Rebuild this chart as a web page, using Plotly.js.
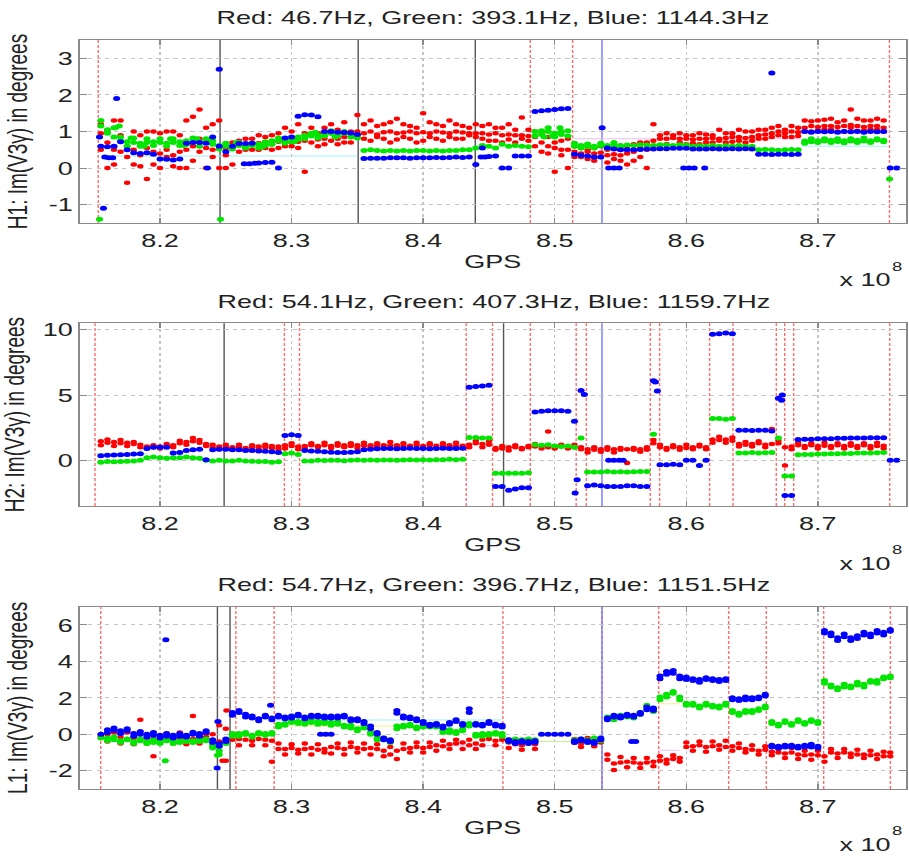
<!DOCTYPE html>
<html>
<head>
<meta charset="utf-8">
<script src="https://cdn.plot.ly/plotly-3.0.1.min.js"></script>
<style>
html,body{margin:0;padding:0;background:#fff;overflow:hidden;}
#wrap{width:909px;height:857px;overflow:hidden;}
#plot{width:640px;height:857px;transform:scaleX(1.4203125);transform-origin:0 0;}
</style>
</head>
<body>
<div id="wrap"><div id="plot"></div></div>
<script>
// ---------- data (GPS in units of 1e8 s, values in degrees) ----------
const gps = [
8.155,8.160,8.165,8.170,8.175,8.180,8.185,8.190,8.195,8.200,
8.205,8.210,8.215,8.220,8.225,8.230,8.235,8.240,8.245,8.250,
8.255,8.260,8.265,8.270,8.275,8.280,8.285,8.290,8.295,8.300,
8.305,8.310,8.315,8.320,8.325,8.330,8.335,8.340,8.345,8.350,
8.355,8.360,8.365,8.370,8.375,8.380,8.385,8.390,8.395,8.400,
8.405,8.410,8.415,8.420,8.425,8.430,8.435,8.440,8.445,8.450,
8.455,8.460,8.465,8.470,8.475,8.480,8.485,8.490,8.495,8.500,
8.505,8.510,8.515,8.520,8.525,8.530,8.535,8.540,8.545,8.550,
8.555,8.560,8.565,8.570,8.575,8.580,8.585,8.590,8.595,8.600,
8.605,8.610,8.615,8.620,8.625,8.630,8.635,8.640,8.645,8.650,
8.655,8.660,8.665,8.670,8.675,8.680,8.685,8.690,8.695,8.700,
8.705,8.710,8.715,8.720,8.725,8.730,8.735,8.740,8.745,8.750,
8.755,8.760];

// ----- H1 -----
const h1Blue = [
0.60,0.58,0.60,0.72,0.50,0.42,0.40,0.42,0.38,0.25,
0.24,0.22,0.25,0.68,0.70,0.70,0.68,0.85,0.60,0.45,
0.60,0.67,0.67,0.68,0.14,0.15,0.16,0.00,0.82,0.85,
1.42,1.46,1.45,1.40,1.00,1.00,0.98,0.97,0.96,0.92,
0.26,0.27,0.27,0.27,0.28,0.28,0.28,0.27,0.28,0.28,
0.28,0.29,0.28,0.29,0.30,0.29,0.30,0.10,0.55,0.32,
0.33,0.00,0.00,0.33,0.33,0.33,1.55,1.57,1.58,1.60,
1.62,1.63,0.38,0.35,0.33,0.30,0.30,0.55,0.52,0.50,
0.50,0.50,0.51,0.52,0.52,0.53,0.53,0.54,0.54,0.54,
0.52,0.52,0.52,0.53,0.52,0.52,0.53,0.52,0.53,0.52,
0.38,0.38,0.37,0.38,0.38,0.37,0.38,1.00,0.98,1.00,
0.99,1.00,0.98,1.00,0.99,1.00,0.98,1.00,0.99,1.00,
0.00,0.00];
const h1Green = [
1.30,1.05,0.85,0.75,0.72,0.70,0.68,0.70,0.72,0.70,
0.68,0.70,0.72,0.75,0.70,0.72,0.70,0.65,0.62,0.60,
0.60,0.62,0.60,0.62,0.65,0.72,0.75,0.74,0.78,0.80,
0.85,0.90,0.88,0.90,0.95,0.95,0.97,0.95,0.93,0.90,
0.48,0.50,0.48,0.47,0.48,0.47,0.48,0.47,0.48,0.48,
0.47,0.48,0.47,0.48,0.48,0.50,0.50,0.55,0.62,0.60,
0.55,0.65,0.60,0.62,0.60,0.58,1.00,1.02,1.00,0.95,
1.00,1.02,0.60,0.62,0.58,0.60,0.62,0.62,0.63,0.62,
0.63,0.62,0.64,0.63,0.62,0.64,0.63,0.62,0.64,0.63,
0.60,0.61,0.60,0.62,0.60,0.61,0.60,0.62,0.60,0.60,
0.50,0.51,0.50,0.49,0.50,0.51,0.50,0.74,0.72,0.75,
0.74,0.76,0.73,0.75,0.74,0.76,0.74,0.75,0.77,0.76,
null,null];
const h1Green2 = [
1.15,0.95,1.10,0.85,0.60,0.82,0.60,0.80,0.62,0.80,
0.60,0.80,0.62,0.65,0.82,0.60,0.80,0.75,0.52,0.68,
0.52,0.70,0.55,0.68,0.55,0.62,0.65,0.82,0.68,0.72,
0.78,0.80,0.95,0.82,0.88,1.02,0.88,1.00,0.85,0.82,
null,null,null,null,null,null,null,null,null,null,
null,null,null,null,null,null,null,null,null,null,
null,null,null,null,null,null,0.88,0.92,1.10,0.85,
0.92,0.88,0.68,0.55,0.66,0.55,0.68,0.55,0.70,0.56,
null,null,null,null,null,null,null,null,null,null,
null,null,null,null,null,null,null,null,null,null,
null,null,null,null,null,null,null,0.68,0.80,0.70,
0.80,0.70,0.80,0.69,0.80,0.70,0.82,0.70,0.80,0.72,
null,null];
const h1Red = [
0.50,1.00,0.50,0.45,0.60,0.50,0.35,0.55,0.45,0.40,
0.50,0.35,0.45,0.50,0.60,0.45,0.55,0.50,0.60,0.55,
0.60,0.62,0.60,0.65,0.68,0.70,0.65,0.72,0.75,0.70,
0.72,0.75,0.70,0.78,0.80,0.75,0.80,0.85,0.85,0.90,
0.95,1.00,0.92,0.98,1.00,0.95,0.97,1.00,0.95,0.98,
0.95,1.00,0.97,0.95,1.00,0.97,0.95,0.95,0.95,0.92,
0.95,0.90,0.92,0.90,0.90,0.88,0.85,0.70,0.60,0.55,
0.50,0.50,0.45,0.40,0.45,0.40,0.42,0.35,0.38,0.35,
0.40,0.45,0.55,0.70,0.75,0.80,0.80,0.82,0.80,0.80,
0.78,0.80,0.80,0.82,0.80,0.82,0.85,0.85,0.82,0.85,
0.90,0.92,0.95,0.90,0.95,1.00,0.98,1.10,1.15,1.12,
1.15,1.15,1.12,1.15,1.18,1.15,1.12,1.15,1.15,1.10,
null,null];
const h1Red2 = [
1.20,0.00,1.30,0.90,-0.40,1.00,0.05,-0.30,1.00,0.00,
1.00,0.05,0.90,0.00,1.40,1.60,0.00,1.20,0.00,0.00,
0.10,0.75,0.50,0.80,0.50,0.55,0.90,0.55,1.10,0.60,
1.20,-0.10,0.95,0.60,1.10,0.95,0.65,1.25,1.00,1.45,
1.20,0.75,1.15,0.80,1.25,0.78,1.20,0.80,1.10,0.75,
1.25,0.80,1.15,0.85,1.20,0.80,1.10,0.85,1.15,0.75,
1.10,0.70,1.20,0.70,1.38,0.75,0.60,0.45,0.85,-0.10,
0.75,0.00,0.30,0.55,0.25,0.55,0.30,0.15,0.55,0.20,
0.60,0.20,0.30,0.00,1.20,0.55,0.95,0.60,0.95,0.65,
0.68,0.95,0.70,0.90,1.05,0.70,0.95,0.75,1.00,0.75,
1.05,0.80,1.10,1.00,0.85,1.15,0.88,1.30,1.00,1.30,
1.05,1.35,1.00,1.30,1.60,1.02,1.30,1.05,1.35,1.00,
null,null];
const h1Red3 = [
0.95,0.70,0.10,1.30,0.30,0.10,0.90,1.00,0.10,0.95,
0.30,1.00,0.00,1.30,0.20,0.80,1.10,0.30,1.30,0.35,
0.70,0.45,0.80,0.50,0.90,0.85,0.50,0.95,0.60,1.00,
0.55,0.95,1.10,0.95,0.65,1.20,1.05,0.70,0.70,1.00,
0.80,1.30,0.85,1.20,0.70,1.35,0.85,1.15,0.70,1.50,
0.85,1.20,0.75,1.30,0.80,1.15,0.90,1.20,0.80,1.20,
0.75,1.10,0.78,1.05,0.80,1.05,1.00,0.95,0.40,0.70,
0.35,0.80,0.60,0.30,0.50,0.20,0.60,0.50,0.25,0.50,
0.10,0.65,0.70,0.50,0.60,0.90,0.65,0.90,0.70,0.90,
0.90,0.65,0.92,0.70,0.75,0.95,0.72,1.05,0.70,1.00,
0.80,1.05,0.85,1.15,1.05,0.85,1.10,1.00,1.28,1.02,
1.32,1.05,1.25,1.00,1.10,1.35,1.02,1.30,1.05,1.30,
null,null];
const h1BlueExtraX = [8.154,8.157,8.158,8.161,8.164,8.167,8.236,8.245,8.264,8.268,8.272,8.444,8.447,8.536,8.541,8.545,8.549,8.598,8.602,8.606,8.614,8.665];
const h1BlueExtraY = [0.85,-1.1,0.30,0.28,0.28,1.9,0.00,2.7,0.12,0.12,0.13,0.30,0.30,1.1,0.00,0.00,0.00,0.00,0.00,0.00,0.00,2.6];
const h1GreenExtraX = [8.154,8.166,8.169,8.178,8.188,8.208,8.218,8.228,8.238,8.246,8.258,8.278,8.302,8.318,8.333,8.492,8.498,8.504,8.7545];
const h1GreenExtraY = [-1.4,1.10,1.15,0.82,0.60,0.80,0.62,0.80,0.78,-1.4,0.70,0.58,0.72,0.98,0.85,0.85,0.88,1.10,-0.3];

// ----- H2 -----
const h2Blue = [
0.35,0.38,0.40,0.42,0.45,0.48,0.50,0.90,1.00,1.00,
1.00,0.55,0.60,0.75,0.80,0.85,0.05,0.80,0.85,0.85,
0.80,0.80,0.75,0.75,0.72,0.70,0.65,0.60,1.90,1.95,
1.90,0.75,0.72,0.70,0.65,0.62,0.60,0.60,0.62,0.65,
0.80,0.85,0.88,0.90,0.90,0.88,0.90,0.92,0.90,0.90,
0.88,0.90,0.92,0.90,0.90,0.92,5.60,5.65,5.70,5.75,
-2.00,-2.00,-2.30,-2.20,-2.10,-2.10,3.70,3.75,3.80,3.80,
3.80,3.75,3.00,5.35,-1.95,-1.90,-1.95,-2.00,-2.00,-2.00,
-1.95,-1.95,-2.00,-2.00,6.10,-0.35,-0.35,-0.30,-0.35,0.00,
0.00,-0.40,0.00,9.65,9.70,9.75,9.70,2.30,2.30,2.28,
2.30,2.30,2.25,4.75,-2.70,-2.70,1.60,1.62,1.62,1.65,
1.65,1.65,1.68,1.68,1.70,1.70,1.70,1.72,1.72,1.72,
0.00,0.00];
const h2Green = [
-0.15,-0.10,-0.12,-0.10,-0.08,-0.05,0.00,0.20,0.25,0.20,
0.15,0.20,0.20,0.25,0.20,0.15,0.00,-0.05,0.00,-0.05,
-0.05,0.00,-0.05,-0.08,-0.10,-0.10,-0.15,-0.12,0.50,0.55,
0.45,-0.05,-0.05,0.00,-0.02,0.00,0.00,-0.03,0.00,0.02,
0.00,0.02,0.00,0.03,0.02,0.00,0.03,0.05,0.02,0.05,
0.03,0.05,0.05,0.08,0.05,0.08,1.75,1.75,1.70,1.70,
-1.00,-1.00,-1.00,-1.00,-1.00,-0.95,1.20,1.15,1.20,1.10,
1.05,1.10,1.00,1.70,-0.90,-0.90,-0.90,-0.85,-0.90,-0.88,
-0.90,-0.88,-0.85,-0.85,2.00,null,null,null,null,null,
null,null,null,3.20,3.20,3.15,3.20,0.55,0.55,0.60,
0.55,0.58,0.60,1.70,-1.20,-1.20,0.42,0.45,0.45,0.48,
0.48,0.50,0.50,0.52,0.52,0.55,0.55,0.55,0.58,0.60,
null,null];
const h2Red = [
1.45,1.35,1.40,1.30,1.35,1.25,1.20,1.05,1.00,1.05,
1.10,1.15,1.30,1.40,1.45,1.35,1.10,1.00,1.05,1.00,
1.00,1.00,0.95,1.00,1.05,1.00,0.95,1.05,1.15,1.10,
1.05,1.10,1.15,1.10,1.15,1.10,1.12,1.15,1.10,1.15,
1.12,1.15,1.10,1.15,1.12,1.15,1.10,1.12,1.15,1.10,
1.15,1.12,1.10,1.15,1.10,1.12,1.20,1.30,1.25,1.20,
0.95,0.90,1.00,1.00,0.95,1.00,1.05,1.10,1.00,1.05,
1.10,1.05,1.00,1.00,0.85,0.80,0.85,0.80,0.85,0.80,
0.85,0.80,0.85,0.80,1.30,1.00,0.95,1.00,1.00,0.95,
1.00,1.05,1.00,1.60,1.55,1.60,1.50,1.25,1.20,1.25,
1.30,1.20,1.25,1.30,1.00,1.05,1.15,1.10,1.15,1.10,
1.12,1.10,1.15,1.10,1.12,1.10,1.15,1.10,1.10,1.12,
null,null];
const h2Red2 = [
1.15,1.60,1.10,1.55,1.10,1.40,1.00,0.90,1.15,0.90,
1.25,1.00,1.50,1.20,1.70,1.55,1.25,1.20,0.85,1.20,
0.85,1.20,0.85,1.15,0.85,1.20,1.10,0.85,0.90,1.30,
0.85,0.95,1.30,1.00,1.35,0.95,1.30,1.00,1.30,0.95,
1.35,1.00,1.30,0.95,1.40,1.00,1.30,0.95,1.35,1.00,
1.30,0.95,1.30,1.00,1.35,0.95,1.00,1.50,1.00,1.45,
0.80,1.10,0.75,1.15,0.85,1.10,1.25,0.90,2.20,0.90,
1.20,0.90,1.20,0.85,0.60,1.00,0.65,1.00,0.60,0.95,
-0.20,0.95,0.65,1.00,1.55,1.20,0.80,1.15,0.80,1.20,
0.85,1.20,0.85,1.35,1.80,1.35,1.75,1.05,1.40,1.05,
1.45,1.00,2.40,1.50,-0.40,0.85,1.35,0.95,1.30,0.90,
1.35,0.95,1.30,0.90,1.30,0.95,1.30,0.90,1.35,0.90,
null,null];
const h2BlueExtraX = [8.5155,8.517,8.5225,8.541,8.545,8.549,8.552,8.5765,8.578,8.673,8.6725];
const h2BlueExtraY = [-2.5,-1.5,5.05,0.00,0.00,0.00,0.00,6.00,5.30,5.00,4.60];

// ----- L1 -----
const l1Blue = [
0.00,0.25,0.22,0.20,0.20,0.05,0.00,0.00,-0.05,-0.05,
-0.10,-0.05,-0.10,-0.05,0.00,0.05,0.10,-0.30,-0.50,-0.40,
1.20,1.20,1.10,0.90,0.85,0.95,0.90,0.95,0.95,1.00,
1.00,0.95,1.05,0.95,1.00,0.90,1.00,0.95,0.85,0.75,
0.70,0.30,0.00,-0.30,-0.40,1.30,1.00,0.85,0.85,0.60,
0.55,0.50,0.35,0.65,0.70,0.60,1.40,0.50,0.55,0.60,
0.45,0.50,-0.40,-0.40,-0.45,-0.40,-0.45,0.00,0.00,0.00,
0.00,0.00,-0.35,-0.35,-0.45,-0.40,-0.30,0.90,0.95,1.00,
1.00,1.05,1.20,1.50,1.30,3.20,3.30,3.50,3.20,3.00,
2.95,3.00,3.00,2.95,3.00,3.05,1.90,1.95,1.90,2.00,
2.05,2.10,-0.70,-0.65,-0.60,-0.70,-0.75,-0.60,-0.70,-0.65,
5.70,5.40,5.30,5.35,5.30,5.40,5.45,5.50,5.55,5.60,
5.65,null];
const l1Blue2 = [
null,0.10,0.35,0.05,0.30,-0.10,0.15,-0.15,0.10,-0.20,
0.05,-0.20,0.05,-0.15,0.12,-0.10,0.20,-0.45,-0.65,-0.25,
1.05,1.30,0.95,1.00,0.75,1.05,0.80,1.05,0.85,0.90,
1.10,0.85,0.95,1.05,0.90,1.00,0.90,1.05,0.75,0.85,
0.60,0.45,0.10,-0.20,-0.30,1.15,0.90,0.95,0.75,0.70,
0.45,0.60,0.45,0.55,0.80,0.50,1.20,0.60,0.45,0.70,
0.55,0.40,-0.30,-0.50,-0.35,-0.50,-0.35,null,null,null,
null,null,-0.45,-0.25,-0.35,-0.50,-0.20,0.80,1.05,0.90,
1.10,0.95,1.10,1.35,1.45,3.05,3.45,3.35,3.05,3.15,
3.05,2.85,3.10,3.05,2.90,2.95,2.00,1.85,2.05,1.90,
1.95,2.20,-0.60,-0.75,-0.70,-0.60,-0.65,-0.70,-0.55,-0.75,
5.55,5.55,5.15,5.50,5.15,5.25,5.60,5.35,5.70,5.45,
5.75,null];
const l1Green = [
-0.20,-0.20,-0.30,-0.35,-0.30,-0.40,-0.35,-0.40,-0.45,-0.40,
-0.35,-0.40,-0.35,-0.40,-0.35,-0.30,-0.35,-0.60,-0.90,-0.50,
-0.10,0.05,0.00,-0.05,0.00,0.05,0.00,0.40,0.60,0.65,
0.60,0.70,0.65,0.70,0.60,0.65,0.55,0.50,0.35,0.30,
0.35,0.10,-0.20,-0.30,-0.35,0.30,0.50,0.45,0.40,0.40,
0.50,0.40,0.20,0.10,0.15,0.20,0.45,0.00,-0.10,0.05,
0.10,-0.10,-0.30,-0.35,-0.30,-0.35,-0.30,null,null,null,
null,null,-0.30,-0.35,-0.30,-0.30,-0.25,0.85,0.90,0.95,
0.95,1.00,1.10,1.60,1.25,1.90,2.20,2.25,1.90,1.70,
1.60,1.55,1.60,1.50,1.55,1.60,1.20,1.15,1.20,1.30,
1.40,1.45,0.60,0.55,0.65,0.60,0.70,0.65,0.70,0.70,
2.80,2.60,2.55,2.60,2.65,2.70,2.75,2.85,2.95,3.05,
3.10,null];
const l1Green2 = [
null,-0.35,-0.15,-0.45,-0.25,-0.50,-0.25,-0.50,-0.30,-0.50,
-0.25,-0.50,-0.45,-0.30,-0.45,-0.40,-0.25,-0.75,-1.10,-0.35,
0.05,-0.10,0.10,-0.15,0.10,-0.05,0.10,0.55,0.50,0.75,
0.70,0.55,0.80,0.55,0.75,0.50,0.70,0.40,0.50,0.20,
0.45,0.00,-0.30,-0.20,-0.45,0.45,0.40,0.55,0.30,0.50,
0.40,0.55,0.10,0.25,0.05,0.30,0.60,-0.10,0.05,-0.05,
0.00,0.05,-0.40,-0.25,-0.40,-0.25,-0.40,null,null,null,
null,null,-0.40,-0.25,-0.40,-0.20,-0.35,0.95,0.80,1.05,
1.05,0.90,1.20,1.45,1.35,2.05,2.05,2.35,2.05,1.60,
1.70,1.45,1.70,1.60,1.45,1.70,1.30,1.05,1.30,1.20,
1.30,1.55,0.70,0.45,0.75,0.50,0.80,0.55,0.80,0.60,
2.95,2.70,2.45,2.75,2.55,2.85,2.60,2.95,2.80,3.15,
3.20,null];
const l1Red = [
-0.10,0.00,-0.20,-0.15,-0.25,-0.20,-0.30,-0.20,-0.25,-0.30,
-0.20,-0.25,-0.20,-0.15,-0.25,-0.20,-0.15,0.00,-0.40,0.30,
-0.30,-0.25,-0.30,-0.35,-0.25,-0.30,-0.35,-0.80,-0.80,-0.75,
-0.85,-0.80,-0.75,-0.85,-0.80,-0.70,-0.75,-0.80,-0.70,-0.75,
-0.80,-0.75,-0.80,-0.90,-1.10,-0.90,-0.80,-0.75,-0.70,-0.75,
-0.70,-0.60,-0.65,-0.55,-0.50,-0.45,-0.60,-0.80,-0.30,-0.25,
-0.35,-0.30,-0.45,-0.55,-0.60,-0.50,-0.55,null,null,null,
null,null,-0.45,-0.50,-0.40,-0.50,-0.45,-1.40,-1.60,-1.55,
-1.50,-1.55,-1.60,-1.55,-1.50,-1.45,-1.40,-1.35,-1.30,-0.70,
-0.65,-0.60,-0.70,-0.65,-0.60,-0.70,-0.65,-0.75,-0.80,-0.85,
-0.90,-0.85,-0.95,-1.00,-1.05,-1.00,-1.10,-1.15,-1.10,-1.15,
-1.20,-1.00,-1.05,-1.00,-1.05,-1.10,-1.10,-1.15,-1.10,-1.20,
-1.20,null];
const l1Red2 = [
null,-0.40,0.10,-0.50,0.10,-0.55,0.80,-0.50,-1.20,-0.45,
0.05,-0.50,0.10,-0.55,1.00,-0.50,0.05,-0.70,0.50,-1.45,
0.00,-0.60,0.00,-0.60,0.05,-0.60,-1.50,-0.50,-1.10,-0.55,
-1.05,-0.50,-1.10,-0.55,-1.00,-1.05,-0.50,-1.10,-0.45,-1.00,
-0.50,-1.10,-0.55,-1.20,-0.70,-1.35,-0.50,-1.00,-0.45,-1.00,
-0.45,-0.90,-0.35,-0.80,-0.30,-0.80,-0.30,-0.50,-0.60,-0.05,
-0.60,-0.10,-0.75,-0.30,-0.85,-0.30,-0.80,null,null,null,
null,null,-0.25,-0.70,-0.20,-0.65,-0.30,-1.10,-1.95,-1.25,
-1.80,-1.30,-1.85,-1.30,-1.75,-1.20,-1.60,-1.15,-1.50,-0.45,
-0.90,-0.40,-0.95,-0.40,-0.85,-0.35,-0.90,-0.50,-1.00,-0.60,
-1.10,-0.65,-1.15,-0.80,-1.30,-0.75,-1.35,-0.90,-1.40,-0.90,
-1.50,-0.80,-1.30,-0.80,-1.25,-0.85,-1.30,-0.90,-1.35,-0.95,
-1.00,null];
const l1BlueExtraX = [8.2044,8.2434,8.2440,8.284,8.322,8.326,8.330,8.5585,8.5615];
const l1BlueExtraY = [5.18,-1.85,0.70,1.60,0.00,0.00,0.00,-0.40,-0.40];
const l1GreenExtraX = [8.204,8.2436];
const l1GreenExtraY = [-1.45,-1.15];
const l1RedExtraX = [8.2475,8.2505];
const l1RedExtraY = [-1.45,1.30];

// event markers (GPS of vertical lines)
const h1RedDashed = [8.153,8.4814,8.5136,8.7544];
const h1Black = [8.2456,8.3506,8.4396];
const h1BlueLine = [8.5359];
const h2RedDashed = [8.1506,8.2945,8.306,8.4327,8.4527,8.4814,8.5163,8.524,8.5726,8.5797,8.6177,8.6355,8.6684,8.6748,8.6816,8.7546];
const h2Black = [8.2487,8.4611];
const h2BlueLine = [8.5359];
const l1RedDashed = [8.1549,8.2576,8.2867,8.4606,8.5359,8.579,8.6322,8.6608,8.7044,8.7551];
const l1Black = [8.2436,8.2532];
const l1BlueLine = [8.5359];

// faint reference levels: [x0, x1, y]
const h1Cyan = [[8.155,8.35,0.33],[8.688,8.754,0.60]];
const h1Pink = [[8.514,8.688,0.80]];
const h2Cyan = [[8.151,8.19,0.50]];
const l1Cyan = [[8.287,8.46,0.78]];
const l1Yellow = [[8.287,8.38,0.45],[8.579,8.595,1.67]];
const l1Pink = [[8.415,8.46,-0.63],[8.579,8.595,-0.87]];
const l1Lime = [[8.487,8.536,-0.40]];

const titles = ['Red: 46.7Hz, Green: 393.1Hz, Blue: 1144.3Hz',
                'Red: 54.1Hz, Green: 407.3Hz, Blue: 1159.7Hz',
                'Red: 54.7Hz, Green: 396.7Hz, Blue: 1151.5Hz'];
const yTitles = ['H1: Im(V3γ) in degrees','H2: Im(V3γ) in degrees','L1: Im(V3γ) in degrees'];
const xTickVals = [8.2,8.3,8.4,8.5,8.6,8.7];
const xTickText = ['8.2','8.3','8.4','8.5','8.6','8.7'];
const y1TickVals = [-1,0,1,2,3];   const y1TickText = ['-1','0','1','2','3'];
const y2TickVals = [0,5,10];       const y2TickText = ['0','5','10'];
const y3TickVals = [-2,0,2,4,6];   const y3TickText = ['-2','0','2','4','6'];

// ---------- drawing ----------
const F = 'Liberation Sans, Arial, Helvetica, sans-serif';
const RED = '#ff0000', GREEN = '#00e600', BLUE = '#0000ff';
const SR = 4.5, SG = 5, SB = 5;
const H = 857;
function pts(x, y, color, size, k) {
  return {type:'scatter', mode:'markers', x:x, y:y, xaxis:'x'+(k>1?k:''), yaxis:'y'+(k>1?k:''),
          marker:{color:color, size:size, line:{width:0}}, hoverinfo:'skip', showlegend:false};
}
const traces = [
  pts(gps,h1Red3,RED,SR,1), pts(gps,h1Red2,RED,SR,1), pts(gps,h1Red,RED,SR,1),
  pts(gps,h1Green2,GREEN,SG,1), pts(gps,h1Green,GREEN,SG,1), pts(h1GreenExtraX,h1GreenExtraY,GREEN,SG,1),
  pts(gps,h1Blue,BLUE,SB,1), pts(h1BlueExtraX,h1BlueExtraY,BLUE,SB,1),

  pts(gps,h2Red2,RED,SR,2), pts(gps,h2Red,RED,SR,2),
  pts(gps,h2Green,GREEN,SG,2),
  pts(gps,h2Blue,BLUE,SB,2), pts(h2BlueExtraX,h2BlueExtraY,BLUE,SB,2),

  pts(gps,l1Red2,RED,SR,3), pts(gps,l1Red,RED,SR,3), pts(l1RedExtraX,l1RedExtraY,RED,SR,3),
  pts(gps,l1Green2,GREEN,SG,3), pts(gps,l1Green,GREEN,SG,3), pts(l1GreenExtraX,l1GreenExtraY,GREEN,SG,3),
  pts(gps,l1Blue2,BLUE,SB,3), pts(gps,l1Blue,BLUE,SB,3), pts(l1BlueExtraX,l1BlueExtraY,BLUE,SB,3)
];

const shapes = [];
function vlines(xs, k, color, width, dash) {
  const xr = 'x'+(k>1?k:''), yr = 'y'+(k>1?k:'')+' domain';
  xs.forEach(v => shapes.push({type:'line', layer:'below', xref:xr, yref:yr, x0:v, x1:v, y0:0, y1:1,
                               line:{color:color, width:width, dash:dash}}));
}
function hlines(segs, k, color) {
  const xr = 'x'+(k>1?k:''), yr = 'y'+(k>1?k:'');
  segs.forEach(s => shapes.push({type:'line', layer:'below', xref:xr, yref:yr, x0:s[0], x1:s[1], y0:s[2], y1:s[2],
                                 line:{color:color, width:1}}));
}
const RD = 'rgba(255,60,60,0.75)', BK = '#555555', BL = '#7777ff';
vlines(h1RedDashed,1,RD,1,'3px,2px'); vlines(h1Black,1,BK,1,'solid'); vlines(h1BlueLine,1,BL,1,'solid');
vlines(h2RedDashed,2,RD,1,'3px,2px'); vlines(h2Black,2,BK,1,'solid'); vlines(h2BlueLine,2,BL,1,'solid');
vlines(l1RedDashed,3,RD,1,'3px,2px'); vlines(l1Black,3,BK,1,'solid'); vlines(l1BlueLine,3,BL,1,'solid');
hlines(h1Cyan,1,'#9ff4f4'); hlines(h1Pink,1,'#f6b8f6');
hlines(h2Cyan,2,'#9ff4f4');
hlines(l1Cyan,3,'#9ff4f4'); hlines(l1Yellow,3,'#f2f28a'); hlines(l1Pink,3,'#f6b8f6'); hlines(l1Lime,3,'#c8f08a');

const axBase = {showline:true, mirror:'ticks', linecolor:'#8a8a8a', linewidth:1,
  ticks:'inside', ticklen:5, tickcolor:'#8a8a8a', showgrid:true, gridcolor:'#c4c4c4',
  griddash:'dot', gridwidth:1, zeroline:false, automargin:false,
  tickfont:{family:F, size:19, color:'#222'}};
const xRange = [8.1388, 8.7671];
function xax(k) {
  return Object.assign({}, axBase, {domain:[0,1], anchor:'y'+(k>1?k:''), range:xRange,
    tickmode:'array', tickvals:xTickVals, ticktext:xTickText,
    title:{text:'GPS', standoff:4, font:{family:F, size:19, color:'#222'}}});
}
function yax(k, dom, rng, tv, tt) {
  return Object.assign({}, axBase, {domain:dom, anchor:'x'+(k>1?k:''), range:rng,
    tickmode:'array', tickvals:tv, ticktext:tt,
    title:{text:yTitles[k-1], standoff:9, font:{family:F, size:19, color:'#222'}}});
}
function sciBase(py) {
  return {text:'x 10', xref:'paper', yref:'paper', x:1, xanchor:'right', xshift:-9,
          y:1-py/H, yanchor:'middle', showarrow:false, font:{family:F, size:19, color:'#222'}};
}
function sciExp(py) {
  return {text:'8', xref:'paper', yref:'paper', x:1, xanchor:'right', xshift:-1,
          y:1-py/H, yanchor:'middle', showarrow:false, font:{family:F, size:13, color:'#222'}};
}
const layout = {
  width:640, height:H, margin:{l:56, r:2, t:0, b:0},
  paper_bgcolor:'#ffffff', plot_bgcolor:'#ffffff', showlegend:false, hovermode:false,
  font:{family:F, size:19, color:'#222'},
  title:{text:titles[0], x:0.5, xref:'paper', xanchor:'center', y:1-17/H, yref:'container', yanchor:'middle',
         font:{family:F, size:19, color:'#222'}},
  xaxis:xax(1), xaxis2:xax(2), xaxis3:xax(3),
  yaxis:yax(1,[0.7398,0.9533],[-1.5,3.5],y1TickVals,y1TickText),
  yaxis2:yax(2,[0.4096,0.6228],[-3.5,10.5],y2TickVals,y2TickText),
  yaxis3:yax(3,[0.0793,0.2921],[-3,7],y3TickVals,y3TickText),
  shapes:shapes,
  annotations:[
    {text:titles[1], xref:'paper', yref:'paper', x:0.5, xanchor:'center', y:1-301/H, yanchor:'middle', showarrow:false, font:{family:F, size:19, color:'#222'}},
    {text:titles[2], xref:'paper', yref:'paper', x:0.5, xanchor:'center', y:1-584/H, yanchor:'middle', showarrow:false, font:{family:F, size:19, color:'#222'}},
    sciBase(280), sciExp(266),
    sciBase(563), sciExp(549),
    sciBase(844), sciExp(830)
  ]
};
Plotly.newPlot('plot', traces, layout, {staticPlot:true, displayModeBar:false});
</script>
</body>
</html>
